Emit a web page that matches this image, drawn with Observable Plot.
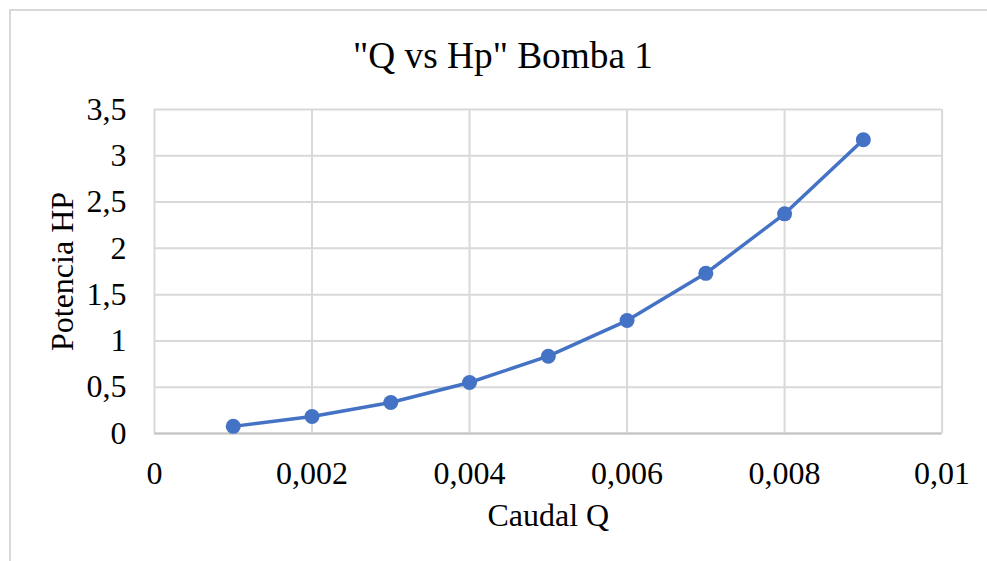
<!DOCTYPE html>
<html>
<head>
<meta charset="utf-8">
<script src="https://cdn.jsdelivr.net/npm/d3@7"></script>
<script src="https://cdn.jsdelivr.net/npm/@observablehq/plot@0.6"></script>
<style>
  html, body { margin: 0; padding: 0; background: #fff; overflow: hidden; }
  #wrap { position: relative; width: 987px; height: 561px; overflow: hidden; }
  #frame { position: absolute; left: 9px; top: 9px; width: 1000px; height: 600px;
           border-left: 2px solid #d9d9d9; border-top: 2px solid #d9d9d9; box-sizing: border-box; }
  #chart { position: absolute; left: 0; top: 0; }
</style>
</head>
<body>
<div id="wrap"><div id="frame"></div><div id="chart"></div></div>
<script>
const caudal = [0.001, 0.002, 0.003, 0.004, 0.005, 0.006, 0.007, 0.008, 0.009];
const potencia = [0.077, 0.184, 0.335, 0.551, 0.835, 1.22, 1.73, 2.373, 3.173];
const xTicks = [0, 0.002, 0.004, 0.006, 0.008, 0.01];
const yTicks = [0, 0.5, 1, 1.5, 2, 2.5, 3, 3.5];
const title = "\"Q vs Hp\" Bomba 1";
const xLabel = "Caudal Q";
const yLabel = "Potencia HP";

const data = caudal.map((q, i) => ({q, hp: potencia[i]}));
const fmt = d => String(d).replace(".", ",");
const blue = "#4472C4";

const chart = Plot.plot({
  width: 987,
  height: 561,
  marginLeft: 154,
  marginRight: 45.4,
  marginTop: 109,
  marginBottom: 128,
  style: {fontFamily: "'Liberation Serif', 'Times New Roman', serif", fontSize: "32px", color: "#000", background: "transparent"},
  x: {domain: [0, 0.01]},
  y: {domain: [0, 3.5]},
  marks: [
    Plot.gridX(xTicks, {stroke: "#d9d9d9", strokeOpacity: 1, strokeWidth: 2}),
    Plot.gridY(yTicks, {stroke: "#d9d9d9", strokeOpacity: 1, strokeWidth: 2}),
    Plot.ruleY([0], {stroke: "#c4c4c4", strokeWidth: 2}),
    Plot.axisX(xTicks, {tickSize: 0, tickPadding: 27.3, tickFormat: fmt, fontSize: 32, fill: "#000", label: null}),
    Plot.axisY(yTicks, {tickSize: 0, tickPadding: 28, tickFormat: fmt, fontSize: 32, fill: "#000", label: null}),
    Plot.line(data, {x: "q", y: "hp", stroke: blue, strokeWidth: 3.5, strokeLinejoin: "round", strokeLinecap: "round"}),
    Plot.dot(data, {x: "q", y: "hp", r: 7.5, fill: blue, stroke: "none"}),
    Plot.text([title], {frameAnchor: "top", dx: -45.3, dy: -53.9, textAnchor: "middle", lineAnchor: "middle", fontSize: 37.3, fill: "#000"}),
    Plot.text([xLabel], {frameAnchor: "bottom", dy: 81.8, textAnchor: "middle", lineAnchor: "middle", fontSize: 32, fill: "#000"}),
    Plot.text([yLabel], {frameAnchor: "left", dx: -92.2, rotate: -90, textAnchor: "middle", lineAnchor: "middle", fontSize: 32, fill: "#000"})
  ]
});
document.getElementById("chart").appendChild(chart);
</script>
</body>
</html>
